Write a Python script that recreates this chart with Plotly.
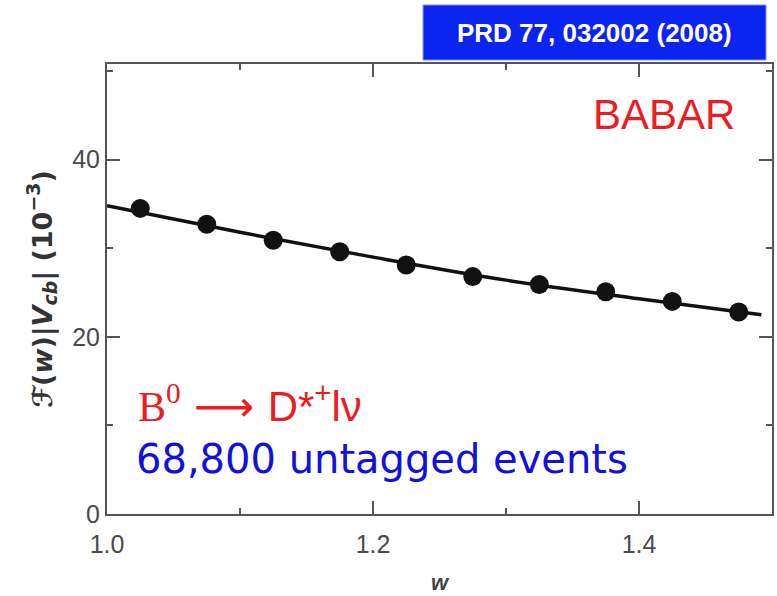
import plotly.graph_objects as go

# data
w_points = [1.025, 1.075, 1.125, 1.175, 1.225, 1.275, 1.325, 1.375, 1.425, 1.475]
f_points = [34.5, 32.7, 30.9, 29.6, 28.1, 26.8, 25.9, 25.1, 24.0, 22.8]
f_errors = [0.6, 0.5, 0.5, 0.5, 0.5, 0.5, 0.5, 0.5, 0.5, 0.6]
w_fit = [1.0, 1.1, 1.2, 1.3, 1.4, 1.492]
f_fit = [34.8, 31.8, 29.0, 26.4, 24.3, 22.5]
x_ticks = [1.0, 1.2, 1.4]
x_ticklabels = ["1.0", "1.2", "1.4"]
y_ticks = [0, 20, 40]
y_ticklabels = ["0", "20", "40"]

AX = "#555555"
TICKFONT = dict(family="Liberation Sans, Arial, sans-serif", size=25, color="#4a4a4a")

fig = go.Figure()
fig.add_trace(go.Scatter(x=w_fit, y=f_fit, mode="lines", line=dict(color="#111111", width=3.5, shape="spline"),
                         showlegend=False, hoverinfo="skip"))
fig.add_trace(go.Scatter(x=w_points, y=f_points, mode="markers",
                         error_y=dict(type="data", array=f_errors, color="#111111", thickness=2, width=0),
                         marker=dict(color="#111111", size=19), showlegend=False))

fig.update_layout(
    width=777, height=596,
    margin=dict(l=107, r=3, t=64, b=82),
    paper_bgcolor="white", plot_bgcolor="white",
    xaxis=dict(range=[1.0, 1.5], tickvals=x_ticks, ticktext=x_ticklabels,
               ticks="inside", ticklen=13, tickwidth=2, tickcolor=AX, ticklabelstandoff=7,
               minor=dict(ticks="inside", ticklen=6, dtick=0.1, tick0=1.0, tickwidth=2, tickcolor=AX),
               showline=True, linecolor=AX, linewidth=2, mirror="ticks",
               showgrid=False, zeroline=False, tickfont=TICKFONT,
               title=dict(text="<b><i>w</i></b>", font=dict(family="Liberation Sans, Arial, sans-serif", size=22, color="#444444"), standoff=18)),
    yaxis=dict(range=[0, 50.8], tickvals=y_ticks, ticktext=y_ticklabels,
               ticks="inside", ticklen=13, tickwidth=2, tickcolor=AX,
               minor=dict(ticks="inside", ticklen=6, dtick=10, tick0=0, tickwidth=2, tickcolor=AX),
               showline=True, linecolor=AX, linewidth=2, mirror="ticks",
               showgrid=False, zeroline=False, tickfont=TICKFONT,
               title=dict(text="<b>\u2131(<i>w</i>)|<i>V<sub>cb</sub></i>| (10<sup>\u22123</sup>)</b>",
                          font=dict(family="DejaVu Sans, Verdana, sans-serif", size=27, color="#333333"), standoff=12)),
)

# blue reference box
fig.add_shape(type="rect", xref="paper", yref="paper", x0=(424-107)/667, x1=(768-107)/667,
              y0=(514-60)/450, y1=(514-5)/450, fillcolor="#0b24f0", line=dict(color="#7f8fff", width=1), layer="above")
fig.add_annotation(xref="paper", yref="paper", x=(596-107)/667, y=(514-33)/450, showarrow=False,
                   text="<b>PRD 77, 032002 (2008)</b>", font=dict(family="Liberation Sans, Arial, sans-serif", size=26, color="white"),
                   xanchor="center", yanchor="middle")

fig.add_annotation(xref="paper", yref="paper", x=(666-107)/667, y=(514-114)/450, showarrow=False,
                   text="BABAR", font=dict(family="Liberation Sans, Arial, sans-serif", size=42, color="#ec1c24"),
                   xanchor="center", yanchor="middle")

fig.add_annotation(xref="paper", yref="paper", x=(136-107)/667, y=(514-403)/450, showarrow=False,
                   text="<span style='font-family:Liberation Serif, Times New Roman, serif'>B<sup>0</sup></span>"
                        "<span style='font-family:DejaVu Sans'> \u27f6 </span>D*<sup>+</sup>l\u03bd",
                   font=dict(family="Liberation Sans, Arial, sans-serif", size=42, color="#ec1c24"),
                   xanchor="left", yanchor="middle")

fig.add_annotation(xref="paper", yref="paper", x=(134-107)/667, y=(514-459)/450, showarrow=False,
                   text="68,800 untagged events",
                   font=dict(family="DejaVu Sans, Verdana, sans-serif", size=40, color="#1010e0"),
                   xanchor="left", yanchor="middle")

fig.write_html("out.html")
